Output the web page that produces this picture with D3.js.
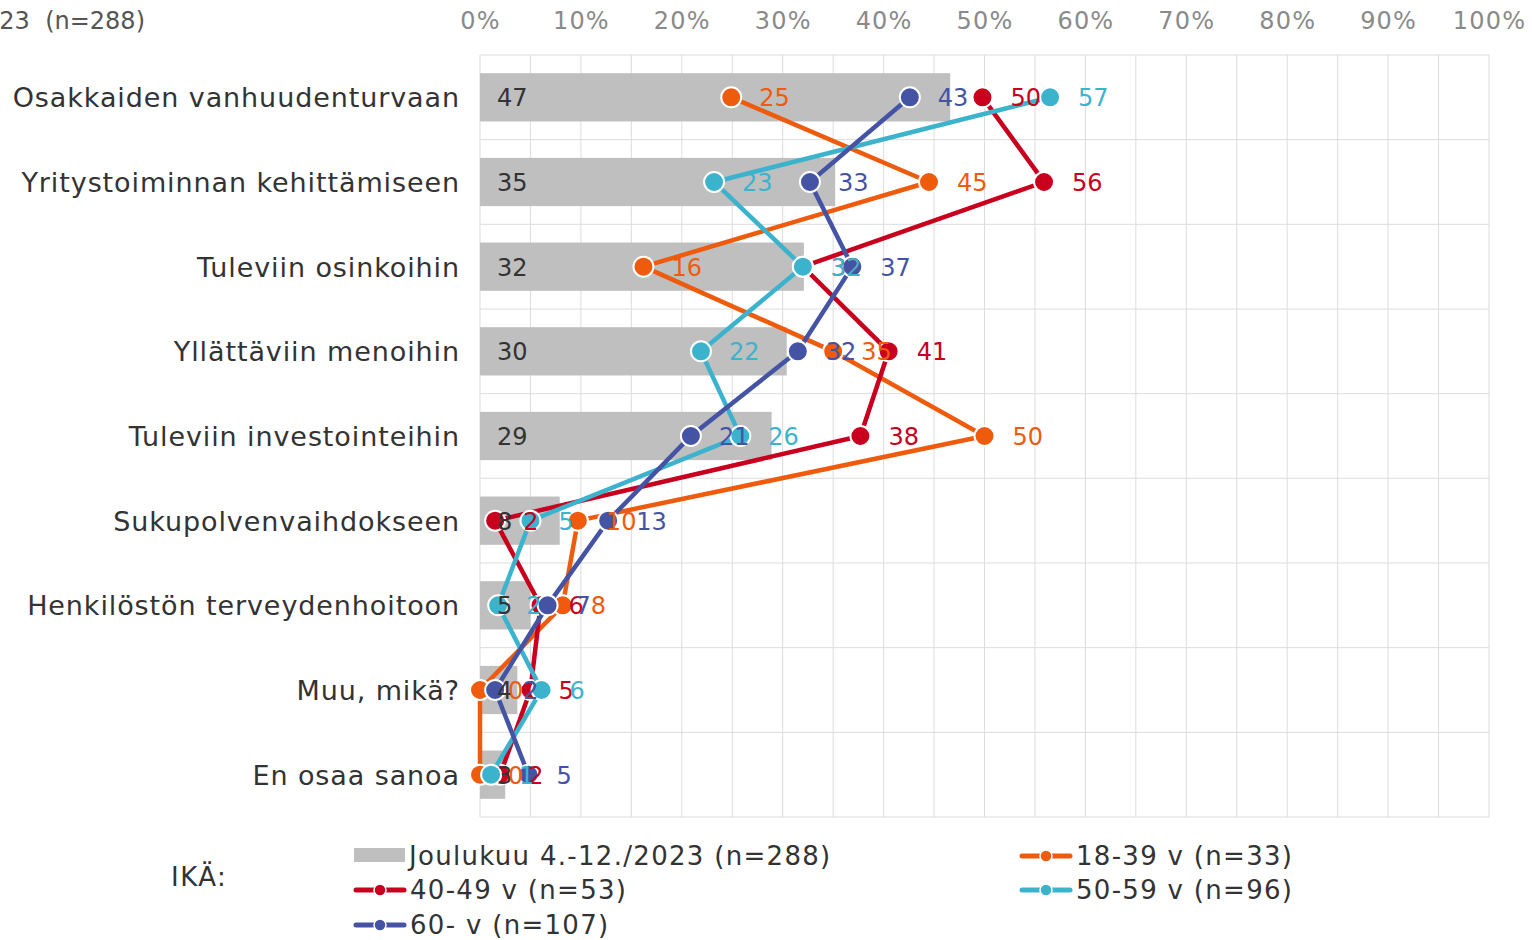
<!DOCTYPE html>
<html>
<head>
<meta charset="utf-8">
<title>Ikä</title>
<script src="https://cdn.jsdelivr.net/npm/d3@7/dist/d3.min.js"></script>
<style>
  body { margin: 0; background: #fff; }
  svg text { font-family: "DejaVu Sans", Verdana, sans-serif; }
</style>
</head>
<body>
<svg id="chart" width="1532" height="940"></svg>
<script>
// categories and values (%)
var categories = ["Osakkaiden vanhuudenturvaan", "Yritystoiminnan kehittämiseen", "Tuleviin osinkoihin",
  "Yllättäviin menoihin", "Tuleviin investointeihin", "Sukupolvenvaihdokseen",
  "Henkilöstön terveydenhoitoon", "Muu, mikä?", "En osaa sanoa"];
var total = [46.6, 35.2, 32.1, 30.4, 28.9, 7.9, 5, 3.7, 2.5];
var age18 = [24.9, 44.5, 16.2, 35, 50, 9.7, 8.2, 0, 0];
var age40 = [49.8, 55.9, 32, 40.5, 37.7, 1.5, 6, 5, 2];
var age50 = [56.5, 23.2, 32, 21.9, 25.8, 5, 1.8, 6.1, 1.1];
var age60 = [42.6, 32.7, 36.9, 31.5, 20.9, 12.7, 6.7, 1.5, 4.8];
var ticks = [0, 10, 20, 30, 40, 50, 60, 70, 80, 90, 100];

var seriesNames = ["Joulukuu 4.-12./2023 (n=288)", "18-39 v (n=33)", "40-49 v (n=53)", "50-59 v (n=96)", "60- v (n=107)"];

var lines = [
  {name: seriesNames[1], values: age18, color: "#ef5b0c"},
  {name: seriesNames[2], values: age40, color: "#c8001e"},
  {name: seriesNames[3], values: age50, color: "#3cb3cd"},
  {name: seriesNames[4], values: age60, color: "#4553a4"}
];

var fmt = function(d) { return d.toFixed(0); };

var svg = d3.select("#chart");

var x = d3.scaleLinear().domain([0, 100]).range([480, 1489]);
var y = d3.scaleBand().domain(categories).range([55, 817]).paddingInner(0.43).paddingOuter(0.215);
var step = y.step();

// title (cut off at the left edge, as in the source)
svg.append("text").attr("x", 145).attr("y", 29).attr("text-anchor", "end")
  .attr("fill", "#555").style("font-size", "24px")
  .style("white-space", "pre")
  .text("Joulukuu 4.-12./2023  (n=288)");

// grid
var grid = svg.append("g");
grid.selectAll(".vg").data(d3.range(0, 101, 5)).enter().append("line")
  .attr("x1", function(d) { return x(d); }).attr("x2", function(d) { return x(d); })
  .attr("y1", 55).attr("y2", 817).attr("stroke", "#dcdcdc").attr("stroke-width", 1);
grid.selectAll(".hg").data(d3.range(0, categories.length + 1)).enter().append("line")
  .attr("x1", 480).attr("x2", 1489)
  .attr("y1", function(i) { return 55 + i * step; }).attr("y2", function(i) { return 55 + i * step; })
  .attr("stroke", "#dcdcdc").attr("stroke-width", 1);

// top axis
var axis = svg.append("g").attr("transform", "translate(0,29)")
  .call(d3.axisTop(x).tickValues(ticks).tickSize(0).tickPadding(0).tickFormat(function(d) { return d + "%"; }));
axis.select(".domain").remove();
axis.selectAll("text").attr("fill", "#8a8a8a").style("font-size", "24px").style("letter-spacing", "1.2px")
  .style("font-family", "'DejaVu Sans', Verdana, sans-serif");

// category labels
svg.selectAll(".cat").data(categories).enter().append("text")
  .attr("x", 460).attr("y", function(d) { return y(d) + y.bandwidth() / 2 + 10; })
  .attr("text-anchor", "end").attr("fill", "#333").style("font-size", "27px").style("letter-spacing", "0.9px")
  .text(function(d) { return d; });

// bars
svg.selectAll(".bar").data(total).enter().append("rect")
  .attr("x", x(0)).attr("y", function(d, i) { return y(categories[i]); })
  .attr("width", function(d) { return x(d) - x(0); }).attr("height", y.bandwidth())
  .attr("fill", "#bfbfbf");

var cy = function(i) { return y(categories[i]) + y.bandwidth() / 2; };

// lines and markers
lines.forEach(function(s) {
  var g = svg.append("g");
  g.append("path").datum(s.values)
    .attr("d", d3.line().x(function(d) { return x(d); }).y(function(d, i) { return cy(i); }))
    .attr("fill", "none").attr("stroke", s.color).attr("stroke-width", 4.5);
  g.selectAll("circle").data(s.values).enter().append("circle")
    .attr("cx", function(d) { return x(d); }).attr("cy", function(d, i) { return cy(i); })
    .attr("r", 10).attr("fill", s.color).attr("stroke", "#fff").attr("stroke-width", 2);
});

// bar labels
svg.selectAll(".blab").data(total).enter().append("text")
  .attr("x", x(0) + 17).attr("y", function(d, i) { return cy(i) + 9; })
  .attr("fill", "#333").style("font-size", "24px")
  .text(fmt);

// line labels
lines.forEach(function(s) {
  svg.append("g").selectAll("text").data(s.values).enter().append("text")
    .attr("x", function(d) { return x(d) + 28; }).attr("y", function(d, i) { return cy(i) + 9; })
    .attr("fill", s.color).style("font-size", "24px")
    .text(fmt);
});

// legend
var leg = svg.append("g");
leg.append("text").attr("x", 171).attr("y", 886).attr("fill", "#333").style("font-size", "26px")
  .style("letter-spacing", "1.5px").text("IKÄ:");
leg.append("rect").attr("x", 354).attr("y", 848).attr("width", 51).attr("height", 14).attr("fill", "#bfbfbf");
leg.append("text").attr("x", 409).attr("y", 865).attr("fill", "#333").style("font-size", "26px")
  .style("letter-spacing", "1.3px").text(seriesNames[0]);

var legPos = [[1020, 856], [354, 890], [1020, 890], [354, 925]];
lines.forEach(function(s, i) {
  var p = legPos[i];
  var g = leg.append("g").attr("transform", "translate(" + p[0] + "," + p[1] + ")");
  g.append("line").attr("x1", 2).attr("x2", 50).attr("y1", 0).attr("y2", 0)
    .attr("stroke", s.color).attr("stroke-width", 5).attr("stroke-linecap", "round");
  g.append("circle").attr("cx", 26).attr("cy", 0).attr("r", 6).attr("fill", s.color).attr("stroke", "#fff").attr("stroke-width", 1.5);
  g.append("text").attr("x", 56).attr("y", 9).attr("fill", "#333").style("font-size", "26px")
    .style("letter-spacing", "1.3px").text(s.name);
});
</script>
</body>
</html>
